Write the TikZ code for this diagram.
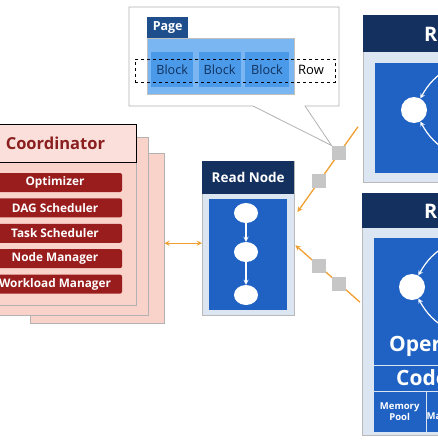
\documentclass[tikz,border=0pt]{standalone}
\usepackage{fontspec}
\setmainfont{Open Sans}
\usepackage{tikz}
\usetikzlibrary{shapes,arrows,positioning}

\definecolor{navyhead}{HTML}{13305E}
\definecolor{nodeblue}{HTML}{1F62C3}
\definecolor{paleblue}{HTML}{DCE6F2}
\definecolor{coordpink}{HTML}{F9D2CA}
\definecolor{coordred}{HTML}{9A1D1D}
\definecolor{titlered}{HTML}{8A1F1F}
\definecolor{linkorange}{HTML}{F0A032}
\definecolor{pagelight}{HTML}{79B6F2}
\definecolor{blockblue}{HTML}{4B9AE9}
\definecolor{pagedark}{HTML}{1F4E8C}
\definecolor{blocktext}{HTML}{10305C}

\begin{document}
\begin{tikzpicture}
                %% setup
                [
                    x=1pt, y=-1pt,
                    stackbox/.style={rectangle, draw=gray!60, fill=coordpink, anchor=north west, inner sep=0pt},
                    coordhead/.style={rectangle, draw=black, fill=coordpink!70!white, thick, anchor=north west, inner sep=0pt, minimum width=162pt, minimum height=38pt, text=titlered, font=\fontsize{16.5}{18}\selectfont\bfseries},
                    moduleitem/.style={rectangle, rounded corners=2pt, fill=coordred, text=white, minimum width=134pt, minimum height=19pt, inner sep=0pt, font=\fontsize{11.8}{13}\selectfont\bfseries},
                    nodebody/.style={rectangle, draw=gray!55, fill=paleblue, anchor=north west, inner sep=0pt},
                    nodehead/.style={rectangle, fill=navyhead, text=white, anchor=north west, inner sep=0pt, font=\fontsize{13.5}{15}\selectfont\bfseries},
                    headtitle/.style={anchor=west, text=white, inner sep=0pt, font=\fontsize{20}{22}\selectfont\bfseries},
                    innerpanel/.style={rectangle, fill=nodeblue, draw=paleblue, anchor=north west, inner sep=0pt},
                    opnode/.style={ellipse, fill=white, minimum width=24pt, minimum height=20pt, inner sep=0pt},
                    bigop/.style={circle, fill=white, minimum size=26pt, inner sep=0pt},
                    flowarrow/.style={->, >=stealth, draw=white, very thick},
                    link/.style={draw=linkorange, line width=1.3pt, >=stealth},
                    gatebox/.style={rectangle, fill=gray!45, minimum size=14pt, inner sep=0pt},
                    pagebox/.style={rectangle, anchor=north west, inner sep=0pt},
                    blocknode/.style={rectangle, fill=blockblue, text=blocktext, minimum height=35pt, inner sep=0pt, font=\fontsize{12.7}{14}\selectfont},
                    bigtext/.style={anchor=west, text=white, inner sep=0pt, font=\fontsize{21}{23}\selectfont\bfseries},
                    celltext/.style={align=center, text=white, font=\fontsize{9.5}{10.5}\selectfont\bfseries},
                ]
                    \useasboundingbox (0,0) rectangle (438,442);
                    \clip (0,0) rectangle (438,442);
                    \fill[white] (0,0) rectangle (438,442);

                    %% Coordinator
                    \node [stackbox, minimum width=134pt, minimum height=170pt] (stackback) at (30,153) {};
                    \node [stackbox, minimum width=161pt, minimum height=178pt] (stackmid) at (-13,137) {};
                    \node [stackbox, minimum width=162pt, minimum height=181pt] (coordbox) at (-26,124) {};
                    \node [coordhead] (coordtitle) at (coordbox.north west) {Coordinator};
                    \node [moduleitem] (optimizer) at (55,182.5) {Optimizer};
                    \node [moduleitem, below=6pt of optimizer] (dagsched) {DAG Scheduler};
                    \node [moduleitem, below=6pt of dagsched] (tasksched) {Task Scheduler};
                    \node [moduleitem, below=6pt of tasksched] (nodemanager) {Node Manager};
                    \node [moduleitem, below=6pt of nodemanager] (workload) {Workload Manager};

                    %% Read Node
                    \node [nodebody, minimum width=92pt, minimum height=154pt] (readbody) at (202,161) {};
                    \node [nodehead, minimum width=92pt, minimum height=33pt] (readhead) at (readbody.north west) {Read Node};
                    \node [innerpanel, minimum width=79pt, minimum height=112pt] (readpanel) at (208,198) {};
                    \node [opnode] (readopA) at (246,213) {};
                    \node [opnode] (readopB) at (246,252) {};
                    \node [opnode] (readopC) at (246,295) {};
                    \draw[flowarrow] (readopA) -- (readopB);
                    \draw[flowarrow] (readopB) -- (readopC);

                    %% top right node
                    \node [nodebody, minimum width=160pt, minimum height=167pt] (topbody) at (363,15) {};
                    \node [nodehead, minimum width=160pt, minimum height=37pt] (tophead) at (topbody.north west) {};
                    \node [headtitle] (toptitle) at (424,33.5) {Read Node};
                    \node [innerpanel, minimum width=140pt, minimum height=111pt] (toppanel) at (374,62) {};
                    \node [bigop] (topopA) at (414,110) {};
                    \node [bigop] (topopB) at (462,60) {};
                    \node [bigop] (topopC) at (462,160) {};
                    \draw[flowarrow] (topopB) to[bend right=15] (topopA);
                    \draw[flowarrow] (topopC) to[bend left=15] (topopA);

                    %% bottom right node
                    \node [nodebody, minimum width=160pt, minimum height=242pt] (botbody) at (362,193) {};
                    \node [nodehead, minimum width=160pt, minimum height=35pt] (bothead) at (botbody.north west) {};
                    \node [headtitle] (bottitle) at (424,210.5) {Read Node};
                    \node [innerpanel, minimum width=140pt, minimum height=128pt] (operpanel) at (373,237) {};
                    \node [bigtext] (opertext) at (389,346) {Operator};
                    \node [innerpanel, minimum width=140pt, minimum height=26pt] (codepanel) at (373,365) {};
                    \node [bigtext] (codetext) at (396,378) {CodeGen};
                    \node [innerpanel, minimum width=53pt, minimum height=41pt, celltext] (memorypool) at (373,391) {Memory\\Pool};
                    \node [innerpanel, minimum width=64pt, minimum height=41pt, celltext] (memorymanage) at (426,391) {Memory\\Management};
                    \node [bigop] (botopA) at (412,287) {};
                    \node [bigop] (botopB) at (460,237) {};
                    \node [bigop] (botopC) at (460,337) {};
                    \draw[flowarrow] (botopB) to[bend right=15] (botopA);
                    \draw[flowarrow] (botopC) to[bend left=15] (botopA);

                    %% Lines
                    \draw[link, <->] ([yshift=-5pt]stackback.east) -- ([yshift=-5pt]readbody.west);
                    \draw[link, <-] ([shift={(3,51)}]readbody.north east) -- node[gatebox, pos=0.36] (gateA) {} node[gatebox, pos=0.69] (gateB) {} ([shift={(-5,28)}]topbody.west);
                    \draw[link, <-] ([shift={(1,7)}]readbody.east) -- node[gatebox, pos=0.37] (gateC) {} node[gatebox, pos=0.68] (gateD) {} ([shift={(-2,-12)}]botbody.west);

                    %% Page callout
                    \draw[draw=gray!60, fill=white, thick] (129,7) -- (339,7) -- (339,106) -- (305,106) -- (gateB.north west) -- (253,106) -- (129,106) -- cycle;
                    \node [pagebox, fill=pagedark, text=white, minimum width=41pt, minimum height=21pt, font=\fontsize{12.5}{14}\selectfont\bfseries] (pagelabel) at (147,17) {Page};
                    \node [pagebox, fill=pagelight, draw=gray!50, minimum width=147pt, minimum height=56pt] (pagebody) at (147,38) {};
                    \node [blocknode, anchor=north west, minimum width=42pt] (blockA) at (151,52) {Block};
                    \node [blocknode, minimum width=42pt, right=5pt of blockA] (blockB) {Block};
                    \node [blocknode, minimum width=44pt, right=4pt of blockB] (blockC) {Block};
                    \node [pagebox, draw=black, dashed, thick, minimum width=200pt, minimum height=23pt] (rowbox) at (135,59) {};
                    \node [font=\fontsize{13}{15}\selectfont] (rowtext) at (311,70) {Row};
                \end{tikzpicture}
\end{document}
